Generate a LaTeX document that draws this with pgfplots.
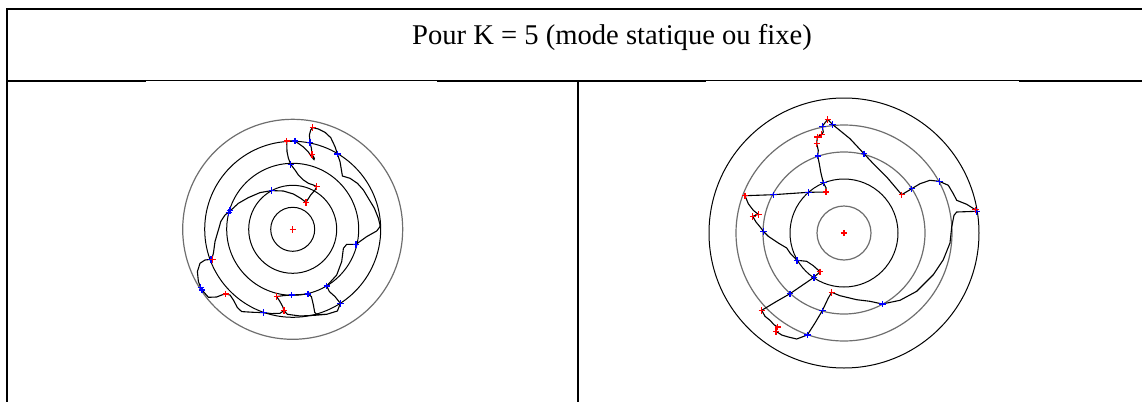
\documentclass[border=0pt]{standalone}
\usepackage{fontspec}
\setmainfont{Liberation Serif}
\usepackage{pgfplots}
\pgfplotsset{compat=1.18}
\definecolor{ringgray}{RGB}{110,110,110}
\definecolor{chred}{RGB}{255,0,0}
\definecolor{nodeblue}{RGB}{0,0,255}

% Common look of the two ring diagrams: 1 unit = 1 pixel of the page
\pgfplotsset{
  ringplot/.style={
    x=0.5pt, y=0.5pt,
    xmin=-140, xmax=140, ymin=-140, ymax=140,
    axis lines=none, clip=false, anchor=center,
  },
  route/.style={black, line width=0.55pt, mark=none},
  chmark/.style={only marks, mark=+, mark size=1.6pt, chred, mark options={line width=0.55pt}},
  nodemark/.style={only marks, mark=+, mark size=1.6pt, nodeblue, mark options={line width=0.55pt}},
}

\begin{document}
\begin{tikzpicture}[x=0.5pt, y=-0.5pt]
\path[use as bounding box] (0,0) rectangle (1142,402);

% table frame
\draw[line width=1pt] (6,9) -- (1142,9);
\draw[line width=1pt] (6.5,8.5) -- (6.5,402);
\draw[line width=1pt] (6,80.5) -- (146,80.5);
\draw[line width=0.55pt] (146,80.5) -- (437,80.5);
\draw[line width=1pt] (437,80.5) -- (706,80.5);
\draw[line width=0.55pt] (706,80.5) -- (1019,80.5);
\draw[line width=1pt] (1019,80.5) -- (1142,80.5);
\draw[line width=1pt] (577.5,80.5) -- (577.5,402);

\node[anchor=base, inner sep=0pt, font=\fontsize{14.3}{16}\selectfont] at (612,44) {Pour K = 5 (mode statique ou fixe)};

% ---- static mode, first run ----
\begin{axis}[ringplot, at={(146.35pt,-114.65pt)}]
  \draw[black, line width=0.5pt] (axis cs:0,0) circle [radius=22];
  \draw[black, line width=0.5pt] (axis cs:0,0) circle [radius=44];
  \draw[black, line width=0.5pt] (axis cs:0,0) circle [radius=66];
  \draw[black, line width=0.5pt] (axis cs:0,0) circle [radius=88];
  \draw[ringgray, line width=0.6pt] (axis cs:0,0) circle [radius=110];
  \addplot[route] coordinates {
    (13.3,27) (18,34.3) (22.3,39.3) (24,42.7) (20.7,44.3) (15.7,46) (10.7,49.3)
    (5.7,54.3) (2.3,59.3) (-2,65) (-4.3,71) (-5.7,77.7) (-6,88.3) (2.3,88.3)
    (10.7,82.3) (15.7,77.3) (19,72.3) (21.3,69.7) (21.7,71) (19.3,75) (18.7,81)
    (17.3,86.7) (16.7,94.3) (18,99.3) (20,101.7) (25.7,100.3) (32.3,97) (38,91.7)
    (42.3,82.7) (44.7,75.3) (47.3,67.7) (49.7,53.3) (57.3,51) (64.7,46) (70.7,39.3)
    (76.7,29.3) (81.7,21) (85.7,11) (87.3,4.3) (87.3,2.7) (84,-1.7) (74,-7.3)
    (63.3,-15) (54,-15) (50.7,-19) (49,-32.3) (44,-45.7) (34,-56.7) (36.7,-62.3)
    (42.3,-67.3) (47.7,-74) (44.7,-81.7) (34,-85) (24,-85) (22,-83) (20.7,-75.7)
    (18.7,-67.3) (15.3,-64.7) (7.3,-65.3) (-1,-65.7) (-9.3,-66.3) (-16,-67.3)
    (-12.7,-72.3) (-10,-77.3) (-8.7,-81.3) (-12.7,-84) (-21,-84.3) (-29.3,-83.3)
    (-39.3,-83) (-51,-82.3) (-55.3,-78.3) (-59.3,-70.7) (-62.7,-65.7) (-67,-64.7)
    (-71,-65.7) (-76,-67.7) (-84.3,-68) (-89.3,-62.3) (-92,-58.3) (-94.3,-52.3)
    (-95.3,-42.3) (-92.7,-34) (-87.7,-30.7) (-81,-30) (-79.3,-24) (-77.7,-12.3)
    (-75.3,-4) (-73.3,2.7) (-72,7.7) (-67.7,14.3) (-63.3,17.7) (-54.3,26)
    (-44.3,31.7) (-32.7,36.7) (-21,38.7) (-9.3,38.3) (0.7,35.3) (8,31) (13.3,27)
  };
  \addplot[route] coordinates {
    (-8.7,-81.3) (-5.3,-85) (7.3,-86.7) (22.3,-86) (34,-85)
  };
  \addplot[nodemark] coordinates {
    (-2,65) (2.3,88.3) (17.3,86.7) (44.7,75.3) (-21,38.7) (-62.7,18.7) (-64,17)
    (63.3,-15) (34,-56.7) (47.7,-74) (15.3,-64.7) (-1,-65.7) (-29.3,-83.3)
    (-92,-58.3) (-90.7,-60.7) (-81.7,-30)
  };
  \addplot[chmark] coordinates {
    (0,0) (24,42.7) (13.3,27) (-6,88.3) (19.3,75) (20,101.7)
    (-16,-67.3) (-8.7,-81.3) (-67,-64.7) (-80,-30)
  };
\end{axis}

% ---- static mode, second run ----
\begin{axis}[ringplot, at={(422pt,-116.5pt)}]
  \draw[ringgray, line width=0.6pt] (axis cs:0,0) circle [radius=27];
  \draw[black, line width=0.5pt] (axis cs:0,0) circle [radius=54];
  \draw[ringgray, line width=0.6pt] (axis cs:0,0) circle [radius=81];
  \draw[ringgray, line width=0.6pt] (axis cs:0,0) circle [radius=108];
  \draw[black, line width=0.5pt] (axis cs:0,0) circle [radius=135];
  \addplot[route] coordinates {
    (-18,41) (-35.7,40.7) (-70.7,38.3) (-99,37.3) (-95.7,29.3) (-90.7,22.7)
    (-85.7,18.7) (-91.3,16.7) (-88,11) (-83.3,5.3) (-80.7,1.7) (-75.7,-3.3)
    (-65.7,-10) (-57.3,-15) (-54,-20) (-47,-27.3) (-37.3,-28.3) (-30.7,-32.7)
    (-24,-38.7) (-30,-44.3) (-42.3,-52.7) (-54,-60.7) (-67.3,-68.3) (-82.3,-77.3)
    (-79,-83.3) (-74,-87.3) (-70,-91.7) (-66.3,-94) (-68,-98.3) (-62.3,-102)
    (-55.7,-104) (-47.3,-106) (-36.7,-102) (-29,-90) (-21.7,-77.7) (-15.7,-65)
    (-12.3,-59.3) (-4,-62.7) (12.7,-66.7) (26,-68.3) (38.3,-71) (56,-67.3)
    (72.7,-58.3) (89.3,-41.7) (99.3,-26.7) (106,-10) (107.7,6) (110,17.7)
    (112.7,21) (132.7,21.7) (131.3,23.3) (122.7,28.7) (112.7,32.7) (109.3,39.3)
    (104.3,47.7) (95.3,51.7) (86,52.7) (76,49.3) (67.7,44.3) (57.7,38.3)
    (42.7,56) (29.3,69.3) (20,79.3) (6,94.3) (-11.7,108.7) (-16.3,113.7)
    (-21.7,106.7) (-20.7,101) (-22.3,98.7) (-26.7,96) (-27.3,89.3) (-25.7,82.7)
    (-26.3,77) (-24.7,69.3) (-23.3,61) (-20.7,50.3) (-18,45.3) (-18,41)
  };
  \addplot[nodemark] coordinates {
    (-35.7,40.7) (-70.7,38.3) (-80.7,1.7) (-47,-27.3) (-30,-44.3) (-54,-60.7)
    (-36.7,-102) (-21.7,-77.7) (38.3,-71) (132.7,21.7) (95.3,51.7) (67.7,44.3)
    (20,79.3) (-11.7,108.7) (-21.7,106.7) (-26.3,77) (-20.7,50.3)
  };
  \addplot[chmark] coordinates {
    (0,0) (-18,41) (-99,37.3) (-85.7,18.7) (-91.3,16.7) (-24,-38.7) (-82.3,-77.3)
    (-66.3,-94) (-68,-98.3) (-12.3,-59.3) (131.3,23.3) (57.7,38.3) (-16.3,113.7)
    (-22.3,98.7) (-26.7,96) (-27.3,89.3)
  };
\end{axis}
\end{tikzpicture}
\end{document}
